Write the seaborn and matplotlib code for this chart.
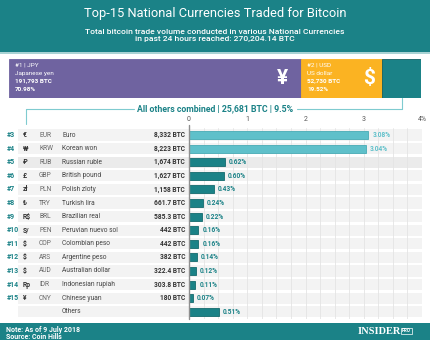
import matplotlib
matplotlib.use("Agg")
import matplotlib.pyplot as plt
import matplotlib.transforms as mtransforms
from matplotlib.patches import Rectangle
from matplotlib.lines import Line2D
import seaborn as sns
import pandas as pd

# ---------------- data ----------------
title = "Top-15 National Currencies Traded for Bitcoin"
subtitle = "Total bitcoin trade volume conducted in various National Currencies\nin past 24 hours reached: 270,204.14 BTC"

top_ranks = ["#1", "#2"]
top_codes = ["JPY", "USD"]
top_names = ["Japanese yen", "US dollar"]
top_btc = ["191,793 BTC", "52,730 BTC"]
top_pct = [70.98, 19.52]
top_symbols = ["¥", "$"]
others_btc = "25,681 BTC"
others_pct = 9.5

ranks = ["#3", "#4", "#5", "#6", "#7", "#8", "#9", "#10", "#11", "#12", "#13", "#14", "#15", ""]
symbols = ["€", "₩", "₽", "£", "zł", "₺", "R$", "S/", "$", "$", "$", "Rp", "¥", ""]
codes = ["EUR", "KRW", "RUB", "GBP", "PLN", "TRY", "BRL", "PEN", "COP", "ARS", "AUD", "IDR", "CNY", ""]
names = ["Euro", "Korean won", "Russian ruble", "British pound", "Polish zloty", "Turkish lira",
         "Brazilian real", "Peruvian nuevo sol", "Colombian peso", "Argentine peso",
         "Australian dollar", "Indonesian rupiah", "Chinese yuan", "Others"]
btc = ["8,332 BTC", "8,223 BTC", "1,674 BTC", "1,627 BTC", "1,158 BTC", "661.7 BTC", "585.3 BTC",
       "442 BTC", "442 BTC", "382 BTC", "322.4 BTC", "303.8 BTC", "180 BTC", ""]
pct = [3.08, 3.04, 0.62, 0.60, 0.43, 0.24, 0.22, 0.16, 0.16, 0.14, 0.12, 0.11, 0.07, 0.51]
xticks = [0, 1, 2, 3, 4]
xticklabels = ["0", "1", "2", "3", "4%"]

# ---------------- style ----------------
sns.set_style("white")
plt.rcParams['font.family'] = ['Roboto', 'DejaVu Sans']

TEAL = "#1b8287"
TEAL_EDGE = "#146a6e"
LTEAL = "#5fc0ca"
LTEAL_EDGE = "#48abb5"
PURPLE = "#6f63a0"
YELLOW = "#fbb322"
W, H = 430, 340

fig = plt.figure(figsize=(4.3, 3.4), dpi=100)


def fx(x):
    return x / W


def fy(y):
    return 1 - y / H


# header
fig.patches.append(Rectangle((0, fy(52)), 1, 52 / H, transform=fig.transFigure,
                             facecolor=TEAL, edgecolor="none", zorder=0))
fig.patches.append(Rectangle((0, fy(53.5)), 1, 1.5 / H, transform=fig.transFigure,
                             facecolor="#a9d3d4", edgecolor="none", zorder=0))
fig.text(0.5, fy(14), title, color="white", fontsize=9.3, ha="center", va="center")
fig.text(0.5, fy(35.5), subtitle, color="white", fontsize=6.1, ha="center", va="center",
         fontweight="medium", linespacing=1.3)

# footer
fig.patches.append(Rectangle((0, 0), 1, (H - 323) / H, transform=fig.transFigure,
                             facecolor=TEAL, edgecolor="none", zorder=0))
fig.text(fx(6), fy(330), "Note: As of 9 July 2018", color="white", fontsize=5, fontweight="bold",
         va="center")
fig.text(fx(6), fy(336.8), "Source: Coin Hills", color="white", fontsize=5, fontweight="bold",
         va="center")
fig.text(fx(401), fy(331), "INSIDER", color="white", fontsize=7.5, fontweight="bold",
         family=["Liberation Serif", "DejaVu Serif"], ha="right", va="center")
fig.text(fx(406.5), fy(331), "PRO", color="white", fontsize=3.3, fontweight="bold",
         ha="center", va="center",
         bbox=dict(boxstyle="square,pad=0.15", fc="none", ec="white", lw=0.5))

# ---------------- top stacked bar ----------------
axt = fig.add_axes([fx(9), fy(98), (421 - 9) / W, (98 - 59) / H])
top_vals = top_pct + [others_pct]
top_cols = [PURPLE, YELLOW, TEAL]
left = 0
for v, c in zip(top_vals, top_cols):
    axt.barh([0], [v], left=left, height=1.0, color=c,
             edgecolor=("#125f63" if c == TEAL else c), linewidth=0.6)
    left += v
axt.set_xlim(0, sum(top_vals))
axt.set_ylim(-0.5, 0.5)
axt.axis("off")

# labels in top bar
starts = [0, top_pct[0]]
for i in range(2):
    x0 = starts[i] + 1.4
    lines = [(f"{top_ranks[i]} | {top_codes[i]}", "normal"), (top_names[i], "normal"),
             (top_btc[i], "bold"), (f"{top_pct[i]:.2f}%", "bold")]
    for j, (t, wgt) in enumerate(lines):
        axt.text(x0, 0.34 - j * 0.205, t, color="white", fontsize=4.6, fontweight=wgt,
                 va="center", ha="left")
axt.text(66.3, 0.0, top_symbols[0], color="white", fontsize=15, fontweight="bold",
         ha="center", va="center")
axt.text(87.4, 0.0, top_symbols[1], color="white", fontsize=15, fontweight="bold",
         ha="center", va="center")

# connector + others text
fig.text(0.5, fy(109), f"All others combined | {others_btc} | {others_pct}%", color=TEAL,
         fontsize=6.3, fontweight="bold", ha="center", va="center")
lc = "#7fcbd0"
fig.add_artist(Line2D([fx(402), fx(402)], [fy(98), fy(109)], transform=fig.transFigure, color=lc, lw=0.8))
fig.add_artist(Line2D([fx(297), fx(402)], [fy(109), fy(109)], transform=fig.transFigure, color=lc, lw=0.8))
fig.add_artist(Line2D([fx(26), fx(134)], [fy(109), fy(109)], transform=fig.transFigure, color=lc, lw=0.8))
fig.add_artist(Line2D([fx(26), fx(26)], [fy(109), fy(124)], transform=fig.transFigure, color=lc, lw=0.8))

# ---------------- main bar chart ----------------
n = len(names)
pitch = 13.6
y_top = 135 - pitch / 2
y_bot = y_top + pitch * n
ax = fig.add_axes([fx(189), fy(y_bot), (422 - 189) / W, (y_bot - y_top) / H])

df = pd.DataFrame({"name": names, "pct": pct})
bar_colors = [LTEAL if i < 2 else TEAL for i in range(n)]
edge_colors = [LTEAL_EDGE if i < 2 else TEAL_EDGE for i in range(n)]
sns.barplot(data=df, x="pct", y="name", hue="name", palette=bar_colors, legend=False,
            width=0.6, orient="h", ax=ax, zorder=3, saturation=1)
for p, ec in zip(ax.patches, edge_colors):
    p.set_edgecolor(ec)
    p.set_linewidth(0.6)

ax.set_xlim(0, 4)
ax.set_ylim(n - 0.5, -0.5)
ax.set_xlabel("")
ax.set_ylabel("")
ax.set_yticks([])
ax.xaxis.tick_top()
ax.set_xticks(xticks)
ax.set_xticklabels(xticklabels, fontsize=5, color="#555555")
ax.set_xticks([i * 0.25 for i in range(17)], minor=True)
ax.tick_params(axis="x", which="both", length=0, pad=4)
ax.grid(True, axis="x", which="both", color="#e4e4e4", lw=0.6)
ax.set_axisbelow(True)
for s in ax.spines.values():
    s.set_visible(False)
ax.patch.set_alpha(0)

# zero line
ax.add_artist(Line2D([0, 0], [-0.75, n - 0.5], color="#8f8f8f", lw=1.0, zorder=4, clip_on=False))

trans = mtransforms.blended_transform_factory(fig.transFigure, ax.transData)
for i in range(n):
    band_col = "#ebebeb" if i == 2 else "#f3f3f3"
    ax.add_patch(Rectangle((fx(18), i - 0.41), fx(422) - fx(18), 0.82, transform=trans,
                           facecolor=band_col, edgecolor="none", zorder=0.1, clip_on=False))
    ax.text(fx(7), i, ranks[i], transform=trans, fontsize=5, color=TEAL, fontweight="bold",
            ha="left", va="center")
    ax.text(fx(22.5), i, symbols[i], transform=trans, fontsize=4.9, color="#333333", fontweight="bold",
            ha="left", va="center")
    ax.text(fx(39), i, codes[i], transform=trans, fontsize=4.8, color="#666666",
            ha="left", va="center")
    ax.text(fx(62), i, names[i], transform=trans, fontsize=4.8, color="#444444",
            ha="left", va="center")
    ax.text(fx(185), i, btc[i], transform=trans, fontsize=4.8, color="#333333", fontweight="bold",
            ha="right", va="center")
    ax.text(pct[i] + 0.07, i, f"{pct[i]:.2f}%", fontsize=4.8, color=(LTEAL if i < 2 else TEAL),
            fontweight="bold", ha="left", va="center", zorder=5)

fig.savefig("out.png", dpi=100, facecolor="white")
